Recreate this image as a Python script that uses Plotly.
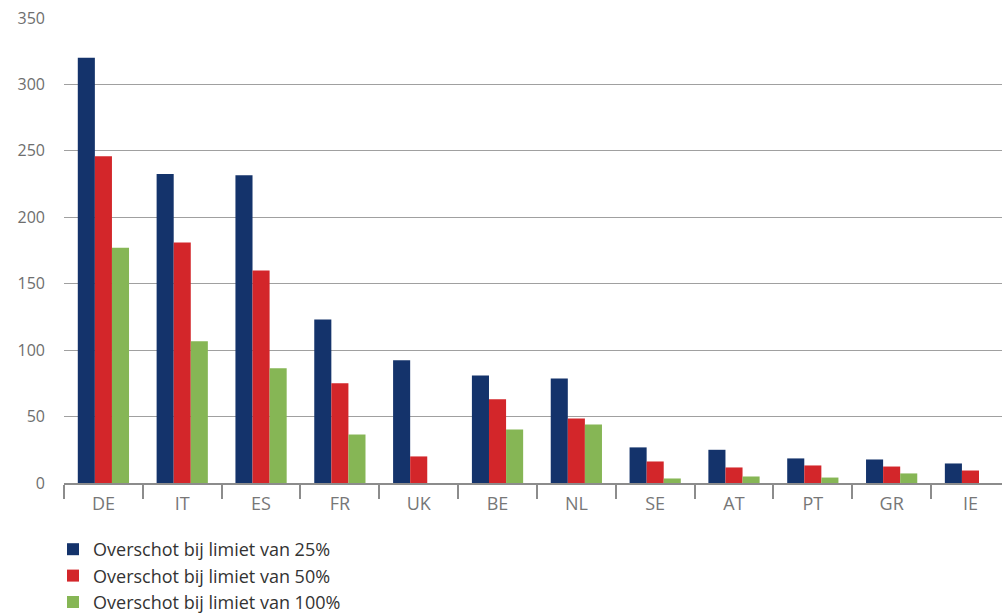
import plotly.graph_objects as go

# Landen en overschot per limiet
landen = ["DE", "IT", "ES", "FR", "UK", "BE", "NL", "SE", "AT", "PT", "GR", "IE"]
overschot_25 = [320, 232.5, 231.7, 123, 92.3, 81, 78.7, 26.8, 25, 18.5, 17.7, 14.7]
overschot_50 = [246, 181, 160, 75, 20, 63, 48.6, 16.2, 11.7, 13.2, 12.4, 9.4]
overschot_100 = [177, 106.6, 86.3, 36.5, 0, 40.3, 44, 3.4, 4.9, 4.1, 7.2, 0]

reeksen = [
    ("Overschot bij limiet van 25%", overschot_25, "#14336B"),
    ("Overschot bij limiet van 50%", overschot_50, "#D3262A"),
    ("Overschot bij limiet van 100%", overschot_100, "#86B655"),
]

fig = go.Figure()
for naam, waarden, kleur in reeksen:
    fig.add_trace(go.Bar(x=landen, y=waarden, name=naam, marker_color=kleur,
                         marker_line_width=0))

fig.update_layout(
    width=1002, height=613,
    margin=dict(l=64, r=0, t=17.5, b=130),
    plot_bgcolor="white", paper_bgcolor="white",
    barmode="group", bargap=0.35, bargroupgap=0,
    font=dict(family="Open Sans", color="#666666"),
    showlegend=True,
    legend=dict(xref="paper", yref="container",
                x=-0.0117, y=1 - 531 / 613, xanchor="left", yanchor="top",
                orientation="v", traceorder="normal",
                font=dict(size=18, color="#333333"),
                itemwidth=30, tracegroupgap=0),
)
fig.update_xaxes(
    range=[-0.5, 11.4],
    showgrid=False, showline=True, linecolor="#8c8c8c", linewidth=1.5,
    ticks="outside", tickson="boundaries", ticklen=14, tickcolor="#8c8c8c",
    tickwidth=1.5, ticklabelstandoff=4,
    tickfont=dict(size=18, color="#777777"),
)
fig.update_yaxes(
    range=[0, 350], dtick=50, tick0=0,
    showgrid=True, gridcolor="#a0a0a0", gridwidth=1.3,
    zeroline=False, showline=False,
    ticklabelstandoff=18,
    tickfont=dict(size=16, color="#6e6e6e"),
)

fig.write_html("out.html")
